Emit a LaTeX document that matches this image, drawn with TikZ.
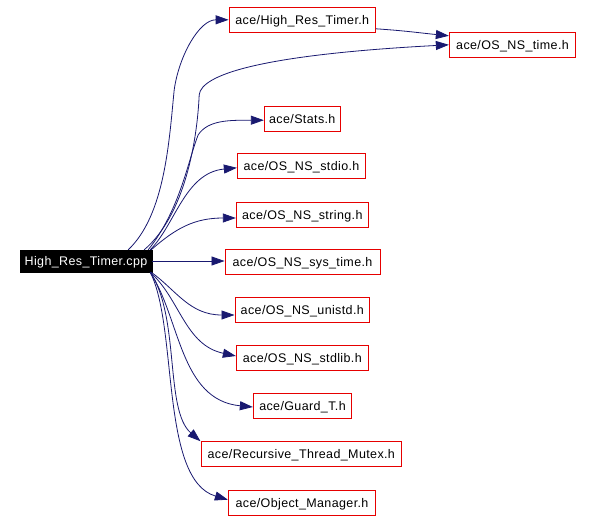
\documentclass[tikz,border=0pt]{standalone}
\usepackage{fontspec}
\setmainfont{Liberation Sans}
\newfontfamily\labfont[LetterSpace=3]{Liberation Sans}
\usetikzlibrary{arrows.meta}
\definecolor{edgeblue}{RGB}{25,25,112}
\definecolor{boxred}{RGB}{230,0,0}
\tikzset{
  filebox/.style={draw=boxred, line width=0.9pt, fill=white, inner sep=0pt,
    minimum height=25pt, text height=9pt, text depth=0pt,
    font=\labfont\fontsize{12.5}{14}\selectfont, text=black},
  mainbox/.style={draw=black, fill=black, inner sep=0pt, minimum height=22pt,
    text height=9pt, text depth=0pt,
    minimum width=132pt, font=\labfont\fontsize{12.5}{14}\selectfont, text=white},
  edge/.style={draw=edgeblue, line width=0.8pt, -{Triangle[length=13pt,width=9pt]}},
}
\begin{document}
\begin{tikzpicture}[x=1pt,y=-1pt]
\useasboundingbox (0,0) rectangle (592,520);
\node[mainbox] (cpp) at (86,261) {High\_Res\_Timer.cpp};
\node[filebox, minimum width=146.5pt] (hrt) at (302.3,19.8) {ace/High\_Res\_Timer.h};
\node[filebox, minimum width=126.4pt] (time) at (512.5,44.8) {ace/OS\_NS\_time.h};
\node[filebox, minimum width=76pt] (stats) at (302.3,118.7) {ace/Stats.h};
\node[filebox, minimum width=128.4pt] (stdio) at (301.5,166.3) {ace/OS\_NS\_stdio.h};
\node[filebox, minimum width=132pt] (string) at (302.3,214.5) {ace/OS\_NS\_string.h};
\node[filebox, minimum width=155pt] (systime) at (302.5,262) {ace/OS\_NS\_sys\_time.h};
\node[filebox, minimum width=134.7pt] (unistd) at (302.3,310) {ace/OS\_NS\_unistd.h};
\node[filebox, minimum width=132pt] (stdlib) at (302.3,358) {ace/OS\_NS\_stdlib.h};
\node[filebox, minimum width=98.4pt] (guard) at (302.5,406.3) {ace/Guard\_T.h};
\node[filebox, minimum width=200.7pt] (rtm) at (301.3,454.2) {ace/Recursive\_Thread\_Mutex.h};
\node[filebox, minimum width=147.4pt] (om) at (302,502.7) {ace/Object\_Manager.h};

% cpp -> High_Res_Timer.h
\draw[edge] ([xshift=-24pt]cpp.north east) .. controls +(37,-35) and +(-5,50) .. +(46,-160)
  .. controls +(5,-35) and +(-29,0) .. (hrt.west);
% cpp -> OS_NS_time.h
\draw[edge] ([xshift=-8pt]cpp.north east) .. controls +(41,-35) and +(-2,45) .. +(55,-155)
  .. controls +(2,-20) and +(-189,10) .. (time.west);
% High_Res_Timer.h -> OS_NS_time.h
\draw[edge] ([yshift=-9pt]hrt.east) .. controls +(30,2) and +(-30,-3) .. ([yshift=9pt]time.west);
% cpp -> Stats.h
\draw[edge] ([xshift=-4pt]cpp.north east) .. controls +(32,-40) and +(-10,25) .. +(50,-115)
  .. controls +(10,-15) and +(-34,0) .. ([yshift=-1.5pt]stats.west);
% cpp -> stdio
\draw[edge] ([xshift=-2pt]cpp.north east) .. controls +(25,-25) and +(-52,5) .. ([yshift=-1.5pt]stdio.west);
% cpp -> string
\draw[edge] ([xshift=-1pt]cpp.north east) .. controls +(25,-22) and +(-41,0) .. ([yshift=-3.5pt]string.west);
% cpp -> sys_time
\draw[edge] (cpp.east) -- (cpp.east -| systime.west);
% cpp -> unistd
\draw[edge] ([xshift=-1pt]cpp.south east) .. controls +(25,18) and +(-45,0) .. ([yshift=-5pt]unistd.west);
% cpp -> stdlib
\draw[edge] ([xshift=-2pt]cpp.south east) .. controls +(30,27) and +(-51,-11) .. ([yshift=2pt]stdlib.west);
% cpp -> Guard_T
\draw[edge] ([xshift=-2pt]cpp.south east) .. controls +(30,46) and +(-73,-7) .. ([yshift=-0.7pt]guard.west);
% cpp -> Recursive_Thread_Mutex
\draw[edge] ([xshift=-2pt]cpp.south east) .. controls +(30,45) and +(-36,-31) .. (rtm.north west);
% cpp -> Object_Manager
\draw[edge] ([xshift=-2pt]cpp.south east) .. controls +(28,55) and +(-68,-20) .. ([yshift=3pt]om.west);
\end{tikzpicture}
\end{document}
